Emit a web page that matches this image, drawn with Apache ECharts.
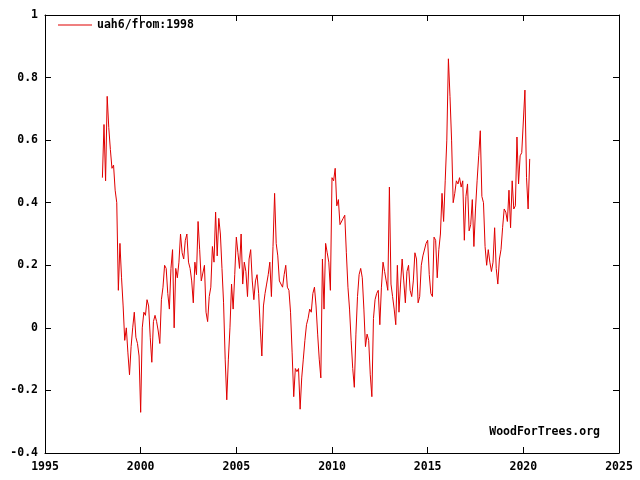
<!DOCTYPE html>
<html>
<head>
<meta charset="utf-8">
<script src="https://cdn.jsdelivr.net/npm/echarts@6/dist/echarts.min.js"></script>
<style>
  html, body { margin: 0; padding: 0; background: #fff; }
  #chart { width: 640px; height: 480px; }
</style>
</head>
<body>
<div id="chart"></div>
<script>
// UAH6 monthly anomalies, Jan 1998 .. May 2020
const startYear = 1998;
const anomalies = [
  0.48, 0.65, 0.47, 0.74, 0.64, 0.57, 0.51, 0.52, 0.44, 0.40, 0.12, 0.27,
  0.16, 0.07, -0.04, 0.00, -0.08, -0.15, -0.06, 0.00, 0.05, -0.03, -0.05, -0.09,
  -0.27, 0.00, 0.05, 0.04, 0.09, 0.07, -0.03, -0.11, 0.02, 0.04, 0.02, -0.01,
  -0.05, 0.09, 0.13, 0.20, 0.19, 0.11, 0.06, 0.19, 0.25, 0.00, 0.19, 0.16,
  0.21, 0.30, 0.24, 0.22, 0.28, 0.30, 0.21, 0.19, 0.15, 0.08, 0.21, 0.17,
  0.34, 0.25, 0.15, 0.15, 0.20, 0.05, 0.02, 0.10, 0.13, 0.26, 0.21, 0.37,
  0.23, 0.35, 0.30, 0.19, 0.08, -0.10, -0.23, -0.10, 0.00, 0.14, 0.06, 0.17,
  0.29, 0.24, 0.19, 0.30, 0.14, 0.21, 0.18, 0.10, 0.22, 0.25, 0.15, 0.09,
  0.15, 0.17, 0.11, 0.00, -0.09, 0.07, 0.11, 0.14, 0.17, 0.21, 0.10, 0.26,
  0.43, 0.27, 0.23, 0.15, 0.15, 0.13, 0.17, 0.20, 0.13, 0.12, 0.05, -0.08,
  -0.22, -0.13, -0.14, -0.13, -0.26, -0.16, -0.10, -0.04, 0.01, 0.03, 0.06, 0.05,
  0.11, 0.13, 0.07, -0.02, -0.10, -0.16, 0.22, 0.06, 0.27, 0.24, 0.21, 0.12,
  0.48, 0.47, 0.51, 0.39, 0.41, 0.33, 0.33, 0.35, 0.36, 0.24, 0.13, 0.06,
  -0.04, -0.13, -0.19, -0.02, 0.10, 0.17, 0.19, 0.16, 0.06, -0.06, -0.02, -0.04,
  -0.15, -0.22, 0.03, 0.09, 0.11, 0.12, 0.01, 0.13, 0.21, 0.18, 0.15, 0.12,
  0.45, 0.14, 0.10, 0.06, 0.01, 0.20, 0.05, 0.14, 0.22, 0.15, 0.08, 0.18,
  0.20, 0.12, 0.10, 0.15, 0.24, 0.22, 0.08, 0.10, 0.20, 0.23, 0.23, 0.27,
  0.28, 0.17, 0.11, 0.10, 0.29, 0.28, 0.16, 0.25, 0.30, 0.43, 0.34, 0.47,
  0.60, 0.86, 0.74, 0.60, 0.40, 0.43, 0.47, 0.46, 0.48, 0.45, 0.47, 0.28,
  0.42, 0.46, 0.31, 0.33, 0.41, 0.26, 0.38, 0.47, 0.55, 0.63, 0.42, 0.40,
  0.26, 0.20, 0.25, 0.21, 0.18, 0.21, 0.32, 0.19, 0.14, 0.22, 0.25, 0.32,
  0.38, 0.37, 0.34, 0.44, 0.32, 0.47, 0.38, 0.39, 0.61, 0.46, 0.55, 0.56,
  0.56, 0.76, 0.48, 0.38, 0.54
];
const xTicks = [1995, 2025, 5];      // min, max, step
const yTicks = [-0.4, 1, 0.2];
const seriesName = 'uah6/from:1998';
const credit = 'WoodForTrees.org';

const font = 'DejaVu Sans Mono';
const points = anomalies.map((v, i) => [startYear + i / 12, v]);

const chart = echarts.init(document.getElementById('chart'), null, { renderer: 'canvas' });

const labelStyle = { color: '#000', fontFamily: font, fontWeight: 'bold', fontSize: 11.5 };
const frameLine = { show: true, onZero: false, lineStyle: { color: '#000', width: 1 } };
const tick = { show: true, inside: true, length: 6, lineStyle: { color: '#000' } };

chart.setOption({
  animation: false,
  backgroundColor: '#fff',
  grid: { left: 45, right: 21, top: 15, bottom: 27 },
  legend: {
    left: 58, top: 19, padding: 0,
    icon: 'rect', itemWidth: 34, itemHeight: 1, itemGap: 6,
    textStyle: labelStyle,
    data: [seriesName]
  },
  xAxis: [
    {
      type: 'value', min: xTicks[0], max: xTicks[1], interval: xTicks[2],
      axisLine: frameLine, axisTick: tick, splitLine: { show: false },
      axisLabel: Object.assign({ margin: 8, formatter: v => String(v) }, labelStyle)
    },
    {
      type: 'value', position: 'top', min: xTicks[0], max: xTicks[1], interval: xTicks[2],
      axisLine: frameLine, axisTick: tick, splitLine: { show: false },
      axisLabel: { show: false }
    }
  ],
  yAxis: [
    {
      type: 'value', min: yTicks[0], max: yTicks[1], interval: yTicks[2],
      axisLine: frameLine, axisTick: tick, splitLine: { show: false },
      axisLabel: Object.assign({ margin: 7, formatter: v => String(+v.toFixed(1)) }, labelStyle)
    },
    {
      type: 'value', position: 'right', min: yTicks[0], max: yTicks[1], interval: yTicks[2],
      axisLine: frameLine, axisTick: tick, splitLine: { show: false },
      axisLabel: { show: false }
    }
  ],
  graphic: [{
    type: 'text', right: 40, bottom: 42,
    style: { text: credit, fill: '#000', font: 'bold 11.5px "DejaVu Sans Mono"' }
  }],
  series: [{
    name: seriesName,
    type: 'line',
    data: points,
    showSymbol: false,
    symbol: 'none',
    lineStyle: { color: '#e00000', width: 1 },
    itemStyle: { color: '#e00000' }
  }]
});
</script>
</body>
</html>
